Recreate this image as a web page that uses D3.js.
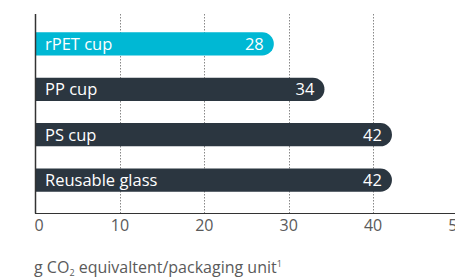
<!DOCTYPE html>
<html>
<head>
<meta charset="utf-8">
<script src="https://cdn.jsdelivr.net/npm/d3@7"></script>
<style>
  body { margin: 0; background: #fff; }
  svg { display: block; font-family: "Open Sans", sans-serif; }
</style>
</head>
<body>
<div id="chart"></div>
<script>
// data
var categories = ["rPET cup", "PP cup", "PS cup", "Reusable glass"];
var values = [28, 34, 42, 42];
var barColors = ["#00b8d4", "#2b3640", "#2b3640", "#2b3640"];
var tickValues = [0, 10, 20, 30, 40, 50];

var W = 455, H = 279;
var svg = d3.select("#chart").append("svg").attr("width", W).attr("height", H);

// scales
var x = d3.scaleLinear().domain([0, 50]).range([35.5, 457.5]);
var y = d3.scaleBand().domain(categories).range([11, 213]).paddingInner(0.49).paddingOuter(0.47);

// dotted gridlines
svg.selectAll(".grid").data(tickValues.slice(1, 5)).enter().append("line")
	.attr("x1", function(d) { return Math.round(x(d)) + 0.5; })
	.attr("x2", function(d) { return Math.round(x(d)) + 0.5; })
	.attr("y1", 14).attr("y2", 213)
	.attr("stroke", "#888").attr("stroke-width", 1)
	.attr("stroke-dasharray", "1.5,1.5");

// bars: square left edge, rounded right end
var h = y.bandwidth();
var barPath = function(d, i) {
	var x0 = x(0), x1 = x(values[i]) + 2, y0 = y(d), r = h / 2;
	return "M" + x0 + "," + y0 + "H" + (x1 - r) +
		"A" + r + "," + r + " 0 0 1 " + (x1 - r) + "," + (y0 + h) +
		"H" + x0 + "Z";
};
svg.selectAll(".bar").data(categories).enter().append("path")
	.attr("d", barPath)
	.attr("fill", function(d, i) { return barColors[i]; });

// labels inside bars
svg.selectAll(".cat").data(categories).enter().append("text")
	.attr("x", 45).attr("y", function(d) { return y(d) + h / 2; })
	.attr("dy", "0.36em")
	.attr("fill", "#fff").attr("font-size", 16.5)
	.text(function(d) { return d; });

svg.selectAll(".val").data(categories).enter().append("text")
	.attr("x", function(d, i) { return x(values[i]) - 8; })
	.attr("y", function(d) { return y(d) + h / 2; })
	.attr("dy", "0.36em").attr("text-anchor", "end")
	.attr("fill", "#fff").attr("font-size", 16.5)
	.text(function(d, i) { return values[i]; });

// axes
svg.append("line").attr("x1", 35.5).attr("x2", 35.5).attr("y1", 14).attr("y2", 213.5)
	.attr("stroke", "#333").attr("stroke-width", 1.5);
svg.append("line").attr("x1", 35).attr("x2", W).attr("y1", 213.5).attr("y2", 213.5)
	.attr("stroke", "#333").attr("stroke-width", 1);

svg.selectAll(".tick").data(tickValues).enter().append("text")
	.attr("x", function(d) { return x(d); })
	.attr("y", 231).attr("text-anchor", function(d) { return d === 0 ? "start" : "middle"; })
	.attr("dx", function(d) { return d === 0 ? -1 : 0; })
	.attr("fill", "#5a5a5a").attr("font-size", 16)
	.text(function(d) { return d; });

// axis title
var t = svg.append("text").attr("x", 34).attr("y", 273)
	.attr("fill", "#5a5a5a").attr("font-size", 16);
t.append("tspan").text("g CO");
t.append("tspan").attr("font-size", 9).attr("dy", 3).text("2");
t.append("tspan").attr("dy", -3).text(" equivaltent/packaging unit");
t.append("tspan").attr("font-size", 9).attr("dy", -6).text("1");
</script>
</body>
</html>
